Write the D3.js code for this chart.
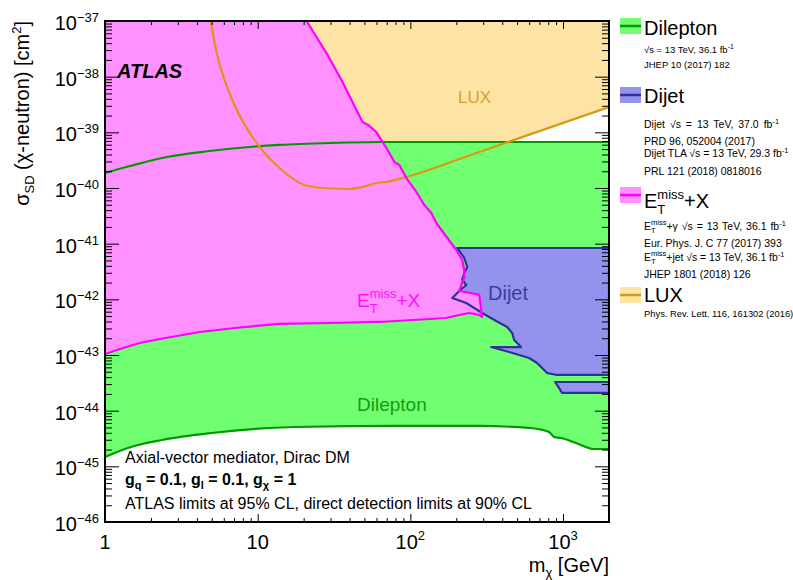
<!DOCTYPE html>
<html><head><meta charset="utf-8">
<script src="https://cdn.jsdelivr.net/npm/d3@7"></script>
<style>body{margin:0;background:#fff}svg{display:block;font-family:"Liberation Sans",Arial,Helvetica,sans-serif}</style>
</head><body><svg id="c" width="793" height="580"></svg>
<script>
// ---------------- data (m_chi in GeV, sigma_SD in cm^2) ----------------
const dileptonUpperMass = [1, 1.457, 2.54, 4.86, 8.87, 13.9, 29.6, 62.7, 2000];
const dileptonUpperXsec = [1.86e-40, 2.48e-40, 3.61e-40, 4.62e-40, 5.45e-40, 5.93e-40, 6.43e-40, 6.70e-40, 6.70e-40];
const dileptonLowerMass = [1, 1.41, 2.36, 5.0, 17.5, 84.7, 282, 600, 810, 873, 970, 1216, 1595, 2000];
const dileptonLowerXsec = [1.47e-45, 2.14e-45, 2.97e-45, 3.97e-45, 5.09e-45, 5.31e-45, 5.31e-45, 4.89e-45, 4.14e-45, 3.37e-45, 3.23e-45, 2.63e-45, 2.05e-45, 2.05e-45];

const metUpperMass = [20.9, 28.7, 35.4, 48.6, 53.1, 59.9, 69.7, 78.6, 84.7, 94.2, 109.4, 123.5, 137.1, 147.9, 199.9, 218.6, 225.4, 225.4, 215.4, 209.0, 250.5, 282.5, 295.6];
const metUpperXsec = [1e-37, 2.45e-38, 8.71e-39, 1.53e-39, 1.35e-39, 1.01e-39, 5.23e-40, 2.93e-40, 2.59e-40, 1.51e-40, 8.48e-41, 4.95e-41, 3.56e-41, 2.35e-41, 7.70e-42, 5.09e-42, 3.37e-42, 2.42e-42, 1.81e-42, 1.41e-42, 1.30e-42, 1.20e-42, 4.82e-43];
const metLowerMass = [282.5, 243.1, 209.0, 171.9, 62.7, 29.6, 13.9, 7.63, 4.18, 2.29, 1.69, 1.253, 1];
const metLowerXsec = [5.24e-43, 5.69e-43, 5.24e-43, 4.62e-43, 3.92e-43, 3.76e-43, 3.61e-43, 3.12e-43, 2.59e-43, 1.94e-43, 1.64e-43, 1.28e-43, 1.04e-43];

const dijetMass = [202.9, 2000, 2000, 913, 786, 676, 600, 443.6, 338.2, 531.4, 478.6, 464.3, 430.5, 364.8, 295.6, 232.3, 188.2, 215.4, 232.3, 218.6, 225.4, 235.9, 225.4];
const dijetXsec = [8.36e-42, 8.36e-42, 4.38e-44, 4.38e-44, 4.75e-44, 7.19e-44, 8.84e-44, 1.13e-43, 1.39e-43, 1.39e-43, 1.86e-43, 2.49e-43, 3.19e-43, 4.08e-43, 5.69e-43, 8.59e-43, 1.06e-42, 1.53e-42, 1.81e-42, 2.23e-42, 2.97e-42, 3.81e-42, 5.53e-42];
const dijetTlaMass = [887, 2000, 2000, 985, 942];
const dijetTlaXsec = [3.27e-44, 3.27e-44, 2.08e-44, 2.08e-44, 2.56e-44];

const luxMass = [4.91, 5.37, 6.73, 8.87, 11.1, 13.9, 20.3, 26.6, 39.9, 48.6, 59.9, 69.7, 94.2, 282.5, 2000];
const luxXsec = [1e-37, 2.81e-38, 4.14e-39, 9.73e-40, 4.26e-40, 2.29e-40, 1.13e-40, 1.0e-40, 9.60e-41, 1.04e-40, 1.23e-40, 1.28e-40, 1.58e-40, 4.44e-40, 2.85e-39];

const xMajorTicks = [1, 10, 100, 1000];
const xTickBase = ["1", "10", "10", "10"];
const xTickExp = ["", "", "2", "3"];
const yMajorExps = [-46, -45, -44, -43, -42, -41, -40, -39, -38, -37];

// ---------------- setup ----------------
const svg = d3.select("#c");
const L = 105, R = 609, T = 21, B = 522;
const x = d3.scaleLog().domain([1, 2000]).range([L, R]);
const y = d3.scaleLog().domain([1e-46, 1e-37]).range([B, T]);

const C = {
  green: "#70ff70", greenLine: "#009a00", greenText: "#129c12",
  mag: "#ff90ff", magLine: "#ff00ff", magText: "#ff10ff",
  dij: "#9393ee", dijLine: "#30309a", dijText: "#3d3d9c",
  lux: "#fde4a4", luxLine: "#d69a14", luxText: "#d8a12a"
};

const zip = (ms, vs) => ms.map((m, i) => [m, vs[i]]);
const lineLin = d3.line().x(d => x(d[0])).y(d => y(d[1]));
const lineSmooth = d3.line().x(d => x(d[0])).y(d => y(d[1])).curve(d3.curveMonotoneX);

svg.append("defs").append("clipPath").attr("id", "clip")
  .append("rect").attr("x", L).attr("y", T).attr("width", R - L).attr("height", B - T);
const plot = svg.append("g").attr("clip-path", "url(#clip)");

const dilUp = zip(dileptonUpperMass, dileptonUpperXsec);
const dilLo = zip(dileptonLowerMass, dileptonLowerXsec);
const metUp = zip(metUpperMass, metUpperXsec);
const metLo = zip(metLowerMass, metLowerXsec);
const met = metUp.concat(metLo);
const dij = zip(dijetMass, dijetXsec);
const dijT = zip(dijetTlaMass, dijetTlaXsec);
const lux = zip(luxMass, luxXsec);

// ---- fills ----
plot.append("path").attr("fill", C.lux)
  .attr("d", lineSmooth(lux) + `L${x(2000) + 5},${y(1e-37) - 5}L${x(luxMass[0])},${y(1e-37) - 5}Z`);
plot.append("path").attr("fill", C.green)
  .attr("d", lineSmooth(dilUp) + lineSmooth(dilLo.slice().reverse()).replace(/^M/, "L") + "Z");
plot.append("path").attr("fill", C.dij).attr("d", lineLin(dij) + "Z");
plot.append("path").attr("fill", C.dij).attr("d", lineLin(dijT) + "Z");
plot.append("path").attr("fill", C.mag)
  .attr("d", `M${x(1) - 5},${y(1e-37) - 5}` + lineLin(met).replace(/^M/, "L") + `L${x(1) - 5},${y(metLowerXsec[metLowerXsec.length - 1])}Z`);

// ---- lines ----
plot.append("path").attr("fill", "none").attr("stroke", C.greenLine).attr("stroke-width", 2.2).attr("d", lineSmooth(dilUp));
plot.append("path").attr("fill", "none").attr("stroke", C.greenLine).attr("stroke-width", 2.2).attr("d", lineSmooth(dilLo));
plot.append("path").attr("fill", "none").attr("stroke", C.luxLine).attr("stroke-width", 2.2).attr("d", lineSmooth(lux));
plot.append("path").attr("fill", "none").attr("stroke", C.dijLine).attr("stroke-width", 2.2).attr("stroke-linejoin", "round").attr("d", lineLin(dij) + "Z");
plot.append("path").attr("fill", "none").attr("stroke", C.dijLine).attr("stroke-width", 2.2).attr("stroke-linejoin", "round").attr("d", lineLin(dijT) + "Z");
plot.append("path").attr("fill", "none").attr("stroke", C.magLine).attr("stroke-width", 2.2).attr("stroke-linejoin", "round").attr("d", lineLin(met));

// ---------------- rich text helper ----------------
function rich(text, parts) {
  let cur = 0, pend = 0, prevLen = 0;
  parts.forEach(p => {
    if (typeof p === "string") p = { t: p };
    const ts = text.append("tspan").text(p.t);
    if (p.size) ts.attr("font-size", p.size);
    if (p.weight) ts.attr("font-weight", p.weight);
    const s = p.shift || 0;
    if (s !== cur) ts.attr("dy", s - cur);
    cur = s;
    let dx = 0;
    if (p.stack) dx = -prevLen; else { dx = pend; pend = 0; }
    if (p.dx) dx += p.dx;
    if (dx) ts.attr("dx", dx);
    const len = ts.node().getComputedTextLength();
    if (p.stack) { pend = Math.max(0, prevLen - len); prevLen = Math.max(prevLen, len); }
    else prevLen = len;
  });
  return text;
}
function txt(g, X, Y, size, fill, anchor) {
  return g.append("text").attr("x", X).attr("y", Y).attr("font-size", size)
    .attr("fill", fill || "#000").attr("text-anchor", anchor || "start");
}

// ---------------- in-plot labels ----------------
txt(svg, 117, 78, 20).attr("font-weight", "bold").attr("font-style", "italic").text("ATLAS");
txt(svg, 458, 103, 17, C.luxText).text("LUX");
txt(svg, 488, 300, 20, C.dijText).text("Dijet");
rich(txt(svg, 357, 307, 19, C.magText), ["E", { t: "miss", size: 13, shift: -9 }, { t: "T", size: 13, shift: 6, stack: true }, { t: "+X", shift: 0 }]);
txt(svg, 357, 411, 19, C.greenText).text("Dilepton");

txt(svg, 125, 463, 16).text("Axial-vector mediator, Dirac DM");
rich(txt(svg, 125, 485, 16).attr("font-weight", "bold"), [
  "g", { t: "q", size: 11, shift: 4 }, { t: " = 0.1, g", shift: 0 }, { t: "l", size: 11, shift: 4 },
  { t: " = 0.1, g", shift: 0 }, { t: "χ", size: 11, shift: 4 }, { t: " = 1", shift: 0 }]);
txt(svg, 125, 509, 16).text("ATLAS limits at 95% CL, direct detection limits at 90% CL");

// ---------------- axes ----------------
const xMinor = [], yMinor = [];
xMajorTicks.forEach(d => { for (let k = 2; k <= 9; k++) if (k * d <= 2000) xMinor.push(k * d); });
yMajorExps.slice(0, -1).forEach(e => { for (let k = 2; k <= 9; k++) yMinor.push(k * Math.pow(10, e)); });
const yMajor = yMajorExps.map(e => Math.pow(10, e));

function drawAxis(axisGen, tx, ty, values, size) {
  const g = svg.append("g").attr("transform", `translate(${tx},${ty})`)
    .call(axisGen.tickValues(values).tickSize(size).tickFormat(() => ""));
  g.select(".domain").remove();
  g.selectAll("line").attr("stroke", "#000").attr("stroke-width", 1);
  return g;
}
drawAxis(d3.axisBottom(x), 0, B, xMajorTicks, -8);
drawAxis(d3.axisBottom(x), 0, B, xMinor, -4);
drawAxis(d3.axisTop(x), 0, T, xMajorTicks, -8);
drawAxis(d3.axisTop(x), 0, T, xMinor, -4);
drawAxis(d3.axisLeft(y), L, 0, yMajor, -14);
drawAxis(d3.axisLeft(y), L, 0, yMinor, -7);
drawAxis(d3.axisRight(y), R, 0, yMajor, -14);
drawAxis(d3.axisRight(y), R, 0, yMinor, -7);

svg.append("rect").attr("x", L).attr("y", T).attr("width", R - L).attr("height", B - T)
  .attr("fill", "none").attr("stroke", "#000").attr("stroke-width", 2);

xMajorTicks.forEach((v, i) => {
  const t = txt(svg, x(v), 549, 20, "#000", "middle");
  const parts = [xTickBase[i]];
  if (xTickExp[i]) parts.push({ t: xTickExp[i], size: 13, shift: -9 });
  rich(t, parts);
});
yMajorExps.forEach(e => {
  const t = txt(svg, 99, y(Math.pow(10, e)) + 9, 20, "#000", "end");
  rich(t, ["10", { t: "\u2212" + Math.abs(e), size: 13, shift: -8 }]);
});

rich(svg.append("text").attr("transform", `translate(29,${T}) rotate(-90)`).attr("text-anchor", "end").attr("font-size", 20),
  ["σ", { t: "SD", size: 13, shift: 5 }, { t: " (χ-neutron) [cm", shift: 0 }, { t: "2", size: 13, shift: -8 }, { t: "]", shift: 0 }]);
rich(txt(svg, R, 572, 20, "#000", "end"), ["m", { t: "χ", size: 13, shift: 5 }, { t: " [GeV]", shift: 0 }]);

// ---------------- legend ----------------
const legend = svg.append("g");
function legBox(yc, fill, stroke) {
  legend.append("rect").attr("x", 620).attr("y", yc - 8).attr("width", 21).attr("height", 16).attr("fill", fill);
  legend.append("line").attr("x1", 620).attr("x2", 641).attr("y1", yc).attr("y2", yc).attr("stroke", stroke).attr("stroke-width", 2.5);
}
legBox(26, C.green, C.greenLine);
txt(legend, 644, 35, 20).text("Dilepton");
rich(txt(legend, 644, 53, 9.5), ["√s = 13 TeV, 36.1 fb", { t: "-1", size: 7, shift: -4 }]);
txt(legend, 644, 68, 9.5).text("JHEP 10 (2017) 182");

legBox(95, C.dij, C.dijLine);
txt(legend, 644, 103, 20).text("Dijet");
rich(txt(legend, 644, 128, 10.5).attr("word-spacing", 2), ["Dijet √s = 13 TeV, 37.0 fb", { t: "-1", size: 7.5, shift: -4 }]);
txt(legend, 644, 145, 10.5).text("PRD 96, 052004 (2017)");
rich(txt(legend, 644, 157, 10.5), ["Dijet TLA √s = 13 TeV, 29.3 fb", { t: "-1", size: 7.5, shift: -4 }]);
txt(legend, 644, 175, 10.5).text("PRL 121 (2018) 0818016");

legBox(195, C.mag, C.magLine);
rich(txt(legend, 644, 208, 20), ["E", { t: "miss", size: 13, shift: -9 }, { t: "T", size: 13, shift: 6, stack: true }, { t: "+X", shift: 0 }]);
rich(txt(legend, 644, 230, 10.5).attr("word-spacing", 1), ["E", { t: "miss", size: 7.5, shift: -5 }, { t: "T", size: 7.5, shift: 3, stack: true },
  { t: "+γ √s = 13 TeV, 36.1 fb", shift: 0 }, { t: "-1", size: 7.5, shift: -4 }]);
txt(legend, 644, 247, 10.5).text("Eur. Phys. J. C 77 (2017) 393");
rich(txt(legend, 644, 261, 10.4), ["E", { t: "miss", size: 7.5, shift: -5 }, { t: "T", size: 7.5, shift: 3, stack: true },
  { t: "+jet √s = 13 TeV, 36.1 fb", shift: 0 }, { t: "-1", size: 7.5, shift: -4 }]);
txt(legend, 644, 278, 10.5).text("JHEP 1801 (2018) 126");

legBox(295, C.lux, C.luxLine);
txt(legend, 644, 302, 20).text("LUX");
txt(legend, 644, 317, 9.4).text("Phys. Rev. Lett. 116, 161302 (2016)");
</script>
</body></html>
